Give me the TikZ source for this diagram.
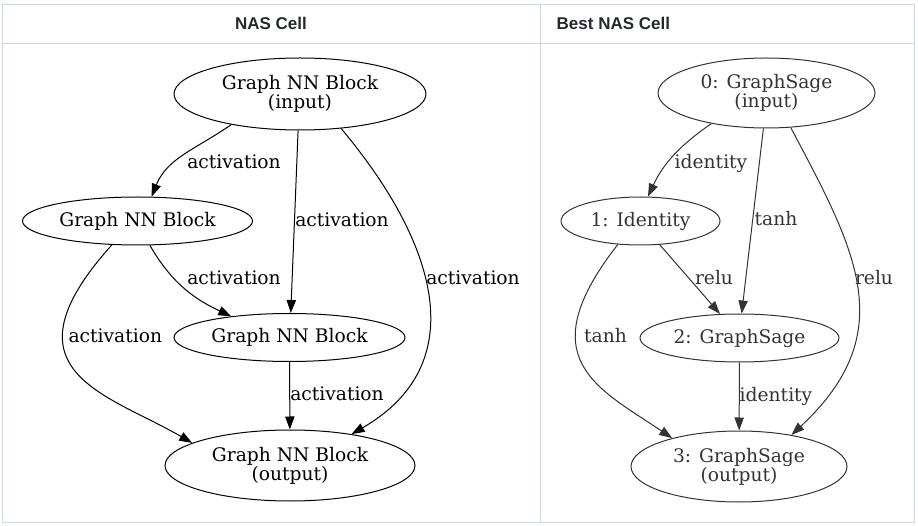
\documentclass[tikz,border=0pt]{standalone}
\usepackage{fontspec}
\setmainfont{DejaVu Serif}
\newfontfamily\headfont{Liberation Sans}
\usetikzlibrary{shapes.geometric,arrows.meta}
\definecolor{frame}{HTML}{D0D7DE}
\definecolor{headtext}{HTML}{24292F}
\definecolor{ink}{HTML}{333333}

\tikzstyle{block}=[ellipse,draw=black,line width=1pt,inner sep=0pt,align=center,font=\fontsize{18.67}{19.3}\selectfont]
\tikzstyle{cell}=[block,draw=ink,text=ink]
\tikzstyle{edge}=[-{Triangle[length=13pt,width=9.3pt]},line width=1pt]
\tikzstyle{edgeb}=[edge,draw=ink]
\tikzstyle{lbl}=[anchor=base,inner sep=0pt,font=\fontsize{18.67}{19.3}\selectfont]
\tikzstyle{head}=[anchor=base,inner sep=0pt,text=headtext,font=\headfont\bfseries\fontsize{17}{20}\selectfont]

\begin{document}
\begin{tikzpicture}[x=1pt,y=1pt]
\useasboundingbox(0,0) rectangle (918,-526);
% table frame
\draw[frame,line width=1pt](2.5,-4.5) rectangle (914.5,-522);
\draw[frame,line width=1pt](2.5,-44) -- (914.5,-44);
\draw[frame,line width=1pt](540.5,-4.5) -- (540.5,-522);
\node(headnas)[head] at (271,-29.5) {NAS Cell};
\node(headbest)[head,anchor=base west] at (556.5,-29.5) {Best NAS Cell};
% NAS cell
\node(in)[block,minimum width=252pt,minimum height=72pt] at (300,-94) {Graph NN Block\\(input)};
\node(b1)[block,minimum width=230pt,minimum height=48pt] at (137.5,-221) {Graph NN Block};
\node(b2)[block,minimum width=231pt,minimum height=48pt] at (289.5,-337.5) {Graph NN Block};
\node(out)[block,minimum width=250pt,minimum height=71pt] at (290,-465.5) {Graph NN Block\\(output)};
\draw[edge](in.204) to[out=215,in=68] (b1.60);
\draw[edge](in.267) -- (b2.87);
\draw[edge](in.320) .. controls +(-50:150) and +(30:140) .. (out.27);
\draw[edge](b1.223) .. controls +(228:170) and +(150:100) .. (out.167);
\draw[edge](b1.297) to[out=-60,in=155] (b2.160);
\draw[edge](b2) -- (out);
\node(act1)[lbl] at (234,-168.5) {activation};
\node(act2)[lbl] at (342,-226.5) {activation};
\node(act3)[lbl] at (234,-284.3) {activation};
\node(act4)[lbl] at (115.3,-342.7) {activation};
\node(act5)[lbl] at (337,-400.7) {activation};
\node(act6)[lbl] at (473,-284.5) {activation};
% best NAS cell
\node(c0)[cell,minimum width=217pt,minimum height=70pt] at (766.5,-93) {0: GraphSage\\(input)};
\node(c1)[cell,minimum width=159pt,minimum height=48pt] at (640.5,-221) {1: Identity};
\node(c2)[cell,minimum width=199pt,minimum height=48pt] at (739.5,-338) {2: GraphSage};
\node(c3)[cell,minimum width=216pt,minimum height=71pt] at (739,-466.5) {3: GraphSage\\(output)};
\draw[edgeb](c0.209) to[out=215,in=65] (c1.73);
\draw[edgeb](c0.265) -- (c2.85);
\draw[edgeb](c0.305) .. controls +(-62:140) and +(43:150) .. (c3.31);
\draw[edgeb](c1.309) -- (c2.129);
\draw[edgeb](c1.226) .. controls +(232:145) and +(146:90) .. (c3.157);
\draw[edgeb](c2) -- (c3);
\node(op1)[lbl,text=ink] at (711,-168.3) {identity};
\node(op2)[lbl,text=ink] at (776,-226) {tanh};
\node(op3)[lbl,text=ink] at (714,-284.5) {relu};
\node(op4)[lbl,text=ink] at (605.5,-342.7) {tanh};
\node(op5)[lbl,text=ink] at (776,-401.7) {identity};
\node(op6)[lbl,text=ink] at (874,-284.5) {relu};
\end{tikzpicture}
\end{document}
